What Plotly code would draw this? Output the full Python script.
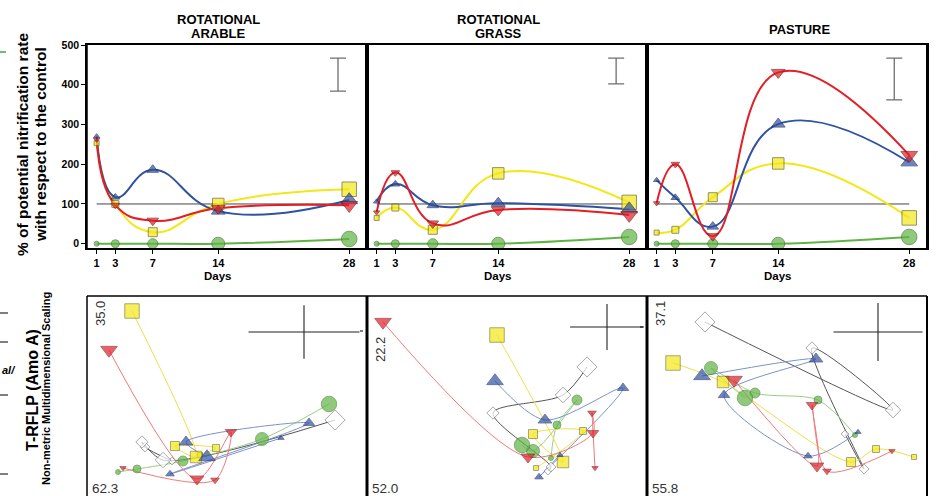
import plotly.graph_objects as go

W, H = 938, 496

DAYS = [1, 3, 7, 14, 28]
DAY_LABELS = ["1", "3", "7", "14", "28"]
RATE_TICKS = [0, 100, 200, 300, 400, 500]
CONTROL_LEVEL = 100

# Potential nitrification rate (% of the control) on each sampling day
arable_square = [253, 100, 29, 100, 137]
arable_up = [270, 117, 186, 82, 110]
arable_down = [262, 97, 58, 89, 97]
arable_circle = [0, 0, 0, 0, 12]

grass_square = [65, 91, 35, 177, 104]
grass_up = [106, 150, 97, 102, 87]
grass_down = [79, 179, 51, 85, 72]
grass_circle = [0, 0, 0, 0, 17]

pasture_square = [28, 35, 117, 202, 65]
pasture_up = [160, 116, 43, 301, 205]
pasture_down = [102, 200, 19, 431, 223]
pasture_circle = [0, 0, 0, 0, 17]

# LSD bars: (day position, lower, upper)
arable_lsd = (26.8, 384, 467)
grass_lsd = (26.6, 402, 467)
pasture_lsd = (26.4, 362, 467)

# NMDS scores (axis 1, axis 2) of the amoA T-RFLP profiles, one pair per day
arable_nmds_square = [(-0.27, -0.59), (-0.11, -0.52), (-0.52, -0.50), (-0.31, -0.61), (-0.95, 0.85)]
arable_nmds_up = [(0.54, -0.42), (-0.57, -0.78), (0.82, -0.27), (-0.41, -0.46), (-0.20, -0.61)]
arable_nmds_down = [(-1.04, -0.72), (-0.12, -0.84), (0.04, -0.36), (-0.30, -0.83), (-1.18, 0.46)]
arable_nmds_circle = [(-1.09, -0.76), (-0.90, -0.73), (-0.44, -0.65), (0.35, -0.43), (1.02, -0.08)]
arable_nmds_diamond = [(-0.55, -0.65), (-0.82, -0.51), (-0.85, -0.46), (-0.64, -0.64), (1.08, -0.24)]

grass_nmds_square = [(0.29, -0.72), (0.76, -0.35), (0.26, -0.38), (0.56, -0.66), (-0.10, 0.61)]
grass_nmds_up = [(0.53, -0.59), (0.32, -0.81), (1.16, 0.08), (0.38, -0.24), (-0.12, 0.15)]
grass_nmds_down = [(0.88, -0.72), (0.85, -0.17), (0.86, -0.37), (0.21, -0.61), (-1.24, 0.74)]
grass_nmds_circle = [(0.44, -0.62), (0.50, -0.29), (0.70, -0.04), (0.26, -0.55), (0.15, -0.49)]
grass_nmds_diamond = [(0.41, -0.75), (0.44, -0.71), (-0.14, -0.17), (0.56, 0.01), (0.80, 0.29)]

pasture_nmds_square = [(1.27, -0.61), (0.89, -0.53), (0.64, -0.66), (-0.64, 0.14), (-1.14, 0.33)]
pasture_nmds_up = [(0.71, -0.36), (0.21, -0.60), (-0.63, 0.01), (0.29, 0.37), (-0.85, 0.20)]
pasture_nmds_down = [(1.05, -0.55), (0.40, -0.75), (0.25, -0.09), (0.30, -0.70), (-0.53, 0.16)]
pasture_nmds_circle = [(0.68, -0.39), (0.31, -0.04), (-0.32, 0.03), (-0.76, 0.28), (-0.42, -0.02)]
pasture_nmds_diamond = [(0.58, -0.38), (0.77, -0.73), (0.25, 0.48), (1.06, -0.14), (-0.82, 0.74)]

# scale cross: centre x, centre y, half-length axis 1, half-length axis 2
arable_nmds_cross = (0.77, 0.64, 0.555, 0.267)
grass_nmds_cross = (1.00, 0.69, 0.37, 0.23)
pasture_nmds_cross = (0.91, 0.64, 0.445, 0.29)

# axis variance labels (vertical axis, horizontal axis)
arable_nmds_axes = ("35.0", "62.3")
grass_nmds_axes = ("22.2", "52.0")
pasture_nmds_axes = ("37.1", "55.8")

PANEL_TITLES = [["ROTATIONAL", "ARABLE"], ["ROTATIONAL", "GRASS"], ["PASTURE"]]

# ---------------------------------------------------------------- styles
FONT = "Liberation Sans, Arial, sans-serif"
BLUE = "#2F52A3"
YELLOW = "#F3E716"
RED = "#E31E27"
GREEN = "#60B445"
NMDS_LINES = {"square": "#EDE04C", "up": "#7D92CD", "down": "#F07A7A",
              "circle": "#98CF80", "diamond": "#555555"}
SIZES = {
    "circle": [5, 8, 10, 13, 15.5],
    "square": [5, 7, 9, 11.5, 14.5],
    "triangle": [5.5, 7.5, 10, 12, 14.5],
    "diamond": [6, 7.5, 9.5, 12, 15.5],
}

X_EDGES = [87, 367, 647, 927]
TOP_Y = (45, 248)
BOT_Y = (296, 496)


def px_x(p):
    return p / W


def px_y(p):
    return 1 - p / H


fig = go.Figure()


def add_line(x, y, color, width, ax, smooth):
    fig.add_trace(go.Scatter(
        x=x, y=y, mode="lines", xaxis="x" + ax, yaxis="y" + ax,
        line=dict(color=color, width=width, shape="spline", smoothing=smooth),
        hoverinfo="skip", showlegend=False))


def add_markers(x, y, symbol, sizes, fill, edge, ax, edge_w=1):
    fig.add_trace(go.Scatter(
        x=x, y=y, mode="markers", xaxis="x" + ax, yaxis="y" + ax,
        marker=dict(symbol=symbol, size=sizes, color=fill,
                    line=dict(color=edge, width=edge_w)),
        hoverinfo="skip", showlegend=False))


# ---------------------------------------------------------------- nitrification panels
top_sets = [
    (arable_circle, arable_square, arable_up, arable_down, arable_lsd),
    (grass_circle, grass_square, grass_up, grass_down, grass_lsd),
    (pasture_circle, pasture_square, pasture_up, pasture_down, pasture_lsd),
]

for i, (circ, sq, up, down, lsd) in enumerate(top_sets):
    ax = "" if i == 0 else str(i + 1)
    # control reference line
    fig.add_trace(go.Scatter(
        x=[DAYS[0], DAYS[-1]], y=[CONTROL_LEVEL, CONTROL_LEVEL], mode="lines",
        xaxis="x" + ax, yaxis="y" + ax, line=dict(color="#444444", width=1),
        hoverinfo="skip", showlegend=False))
    # LSD bar
    xpos, lo, hi = lsd
    fig.add_trace(go.Scatter(
        x=[xpos], y=[(lo + hi) / 2], mode="markers", xaxis="x" + ax, yaxis="y" + ax,
        marker=dict(size=1, color="rgba(0,0,0,0)"),
        error_y=dict(type="data", array=[(hi - lo) / 2], symmetric=True,
                     color="#6e6e6e", thickness=1.3, width=8),
        hoverinfo="skip", showlegend=False))
    add_line(DAYS, circ, GREEN, 2, ax, 1.3)
    add_line(DAYS, sq, YELLOW, 2, ax, 1.3)
    add_line(DAYS, up, BLUE, 2, ax, 1.3)
    add_line(DAYS, down, RED, 2, ax, 1.3)
    add_markers(DAYS, circ, "circle", SIZES["circle"], GREEN, "#3f7a2a", ax)
    add_markers(DAYS, sq, "square", SIZES["square"], YELLOW, "#6b6420", ax)
    add_markers(DAYS, up, "triangle-up", SIZES["triangle"], BLUE, "#1f2f5f", ax)
    add_markers(DAYS, down, "triangle-down", SIZES["triangle"], RED, "#7a1a1a", ax)

# ---------------------------------------------------------------- NMDS panels
nmds_sets = [
    (arable_nmds_diamond, arable_nmds_circle, arable_nmds_square, arable_nmds_up,
     arable_nmds_down, arable_nmds_cross, arable_nmds_axes),
    (grass_nmds_diamond, grass_nmds_circle, grass_nmds_square, grass_nmds_up,
     grass_nmds_down, grass_nmds_cross, grass_nmds_axes),
    (pasture_nmds_diamond, pasture_nmds_circle, pasture_nmds_square, pasture_nmds_up,
     pasture_nmds_down, pasture_nmds_cross, pasture_nmds_axes),
]

annotations = []

for i, (dia, circ, sq, up, down, cross, labels) in enumerate(nmds_sets):
    ax = str(i + 4)
    groups = [("diamond", dia, "diamond", SIZES["diamond"], "white", "#666666"),
              ("circle", circ, "circle", SIZES["circle"], GREEN, "#3f7a2a"),
              ("square", sq, "square", SIZES["square"], YELLOW, "#6b6420"),
              ("up", up, "triangle-up", SIZES["triangle"], BLUE, "#1f2f5f"),
              ("down", down, "triangle-down", SIZES["triangle"], RED, "#7a1a1a")]
    for key, pts, *_ in groups:
        add_line([p[0] for p in pts], [p[1] for p in pts], NMDS_LINES[key], 1, ax, 0.85)
    for key, pts, sym, sz, fill, edge in groups:
        add_markers([p[0] for p in pts], [p[1] for p in pts], sym, sz, fill, edge, ax, 0.8)
    cx, cy, hx, hy = cross
    fig.add_trace(go.Scatter(
        x=[cx], y=[cy], mode="markers", xaxis="x" + ax, yaxis="y" + ax,
        marker=dict(size=1, color="rgba(0,0,0,0)"),
        error_x=dict(type="data", array=[hx], color="#222222", thickness=1.1, width=0),
        error_y=dict(type="data", array=[hy], color="#222222", thickness=1.1, width=0),
        hoverinfo="skip", showlegend=False))
    vlab, hlab = labels
    annotations.append(dict(xref="x" + ax, yref="paper", x=-1.27,
                            y=px_y(314 if i != 1 else 350), text=vlab, textangle=-90,
                            showarrow=False, xanchor="center", yanchor="middle",
                            font=dict(family=FONT, size=13, color="#333333")))
    annotations.append(dict(xref="paper", yref="paper", x=px_x(X_EDGES[i] + 3),
                            y=px_y(488), text=hlab, showarrow=False,
                            xanchor="left", yanchor="middle",
                            font=dict(family=FONT, size=13.5, color="#333333")))

# ---------------------------------------------------------------- axes
layout = dict(
    width=W, height=H, margin=dict(l=0, r=0, t=0, b=0), autosize=False,
    template="none", paper_bgcolor="white", plot_bgcolor="white",
    font=dict(family=FONT, color="black"),
)

for i in range(3):
    sfx = "" if i == 0 else str(i + 1)
    dom_x = [px_x(X_EDGES[i]), px_x(X_EDGES[i + 1])]
    layout["xaxis" + sfx] = dict(
        domain=dom_x, anchor="y" + sfx, range=[-0.03, 29.9],
        tickvals=DAYS, ticktext=DAY_LABELS, ticks="outside", ticklen=4,
        tickwidth=1, tickcolor="black", showgrid=False, zeroline=False,
        showline=True, mirror=True, linecolor="black", linewidth=1.5,
        tickfont=dict(family=FONT, size=11, weight="bold"), automargin=False)
    layout["yaxis" + sfx] = dict(
        domain=[px_y(TOP_Y[1]), px_y(TOP_Y[0])], anchor="x" + sfx,
        range=[-10.8, 500], tickvals=RATE_TICKS,
        ticks="outside" if i == 0 else "", ticklen=4, tickwidth=1,
        tickcolor="black", showticklabels=(i == 0), showgrid=False,
        zeroline=False, showline=True, mirror=True, linecolor="black",
        linewidth=1.5, tickfont=dict(family=FONT, size=10.5, weight="bold"),
        automargin=False)
    # day labels and panel titles
    annotations.append(dict(xref="x" + sfx, yref="paper", x=14, y=px_y(275.5),
                            text="Days", showarrow=False, xanchor="center",
                            yanchor="middle",
                            font=dict(family=FONT, size=11.5, weight="bold")))
    title = PANEL_TITLES[i]
    if len(title) == 2:
        for line, ypix in zip(title, (19, 33)):
            annotations.append(dict(xref="x" + sfx, yref="paper", x=14, y=px_y(ypix),
                                    text=line, showarrow=False, xanchor="center",
                                    yanchor="middle",
                                    font=dict(family=FONT, size=13, weight="bold")))
    else:
        annotations.append(dict(xref="paper", yref="paper", x=px_x(799), y=px_y(29),
                                text=title[0], showarrow=False, xanchor="center",
                                yanchor="middle",
                                font=dict(family=FONT, size=13, weight="bold")))

for i in range(3):
    sfx = str(i + 4)
    dom_x = [px_x(X_EDGES[i]), px_x(X_EDGES[i + 1])]
    layout["xaxis" + sfx] = dict(domain=dom_x, anchor="y" + sfx, range=[-1.4, 1.4],
                                 visible=False, automargin=False)
    layout["yaxis" + sfx] = dict(domain=[0, px_y(BOT_Y[0])], anchor="x" + sfx,
                                 range=[-1.0, 1.0], visible=False, automargin=False)

# ---------------------------------------------------------------- frames and side text
shapes = []
for xp, w in zip(X_EDGES, (1.5, 3, 3, 2)):
    shapes.append(dict(type="line", xref="paper", yref="paper",
                       x0=px_x(xp), x1=px_x(xp), y0=px_y(TOP_Y[1]), y1=px_y(TOP_Y[0]),
                       line=dict(color="black", width=w)))
    shapes.append(dict(type="line", xref="paper", yref="paper",
                       x0=px_x(xp), x1=px_x(xp), y0=-0.01, y1=px_y(BOT_Y[0]),
                       line=dict(color="black", width=w)))
shapes.append(dict(type="line", xref="paper", yref="paper",
                   x0=px_x(X_EDGES[0]), x1=px_x(X_EDGES[-1]),
                   y0=px_y(BOT_Y[0]), y1=px_y(BOT_Y[0]),
                   line=dict(color="black", width=1.5)))
# partial rules along the left margin
for yp in (313, 342, 395, 474):
    shapes.append(dict(type="line", xref="paper", yref="paper", x0=0, x1=px_x(8),
                       y0=px_y(yp), y1=px_y(yp), line=dict(color="black", width=1)))
shapes.append(dict(type="line", xref="paper", yref="paper", x0=0, x1=px_x(6),
                   y0=px_y(52), y1=px_y(52), line=dict(color="#3aa84a", width=1.5)))
for xa, xb, yp in ((360, 363, 331), (640, 643, 327)):
    shapes.append(dict(type="line", xref="paper", yref="paper", x0=px_x(xa), x1=px_x(xb),
                       y0=px_y(yp), y1=px_y(yp), line=dict(color="black", width=1)))

annotations += [
    dict(xref="paper", yref="paper", x=px_x(22), y=px_y(145),
         text="% of potential nitrification rate", textangle=-90, showarrow=False,
         xanchor="center", yanchor="middle",
         font=dict(family=FONT, size=15.5, weight="bold")),
    dict(xref="paper", yref="paper", x=px_x(40), y=px_y(145),
         text="with respect to the control", textangle=-90, showarrow=False,
         xanchor="center", yanchor="middle",
         font=dict(family=FONT, size=15.5, weight="bold")),
    dict(xref="paper", yref="paper", x=px_x(32), y=px_y(390),
         text="T-RFLP (Amo A)", textangle=-90, showarrow=False,
         xanchor="center", yanchor="middle",
         font=dict(family=FONT, size=16, weight="bold")),
    dict(xref="paper", yref="paper", x=px_x(46), y=px_y(389),
         text="Non-metric Multidimensional Scaling", textangle=-90, showarrow=False,
         xanchor="center", yanchor="middle",
         font=dict(family=FONT, size=11, weight="bold")),
    dict(xref="paper", yref="paper", x=0, y=px_y(370),
         text="al/", showarrow=False, xanchor="left", yanchor="middle",
         font=dict(family=FONT, size=11, weight="bold", style="italic")),
]

layout["shapes"] = shapes
layout["annotations"] = annotations
fig.update_layout(**layout)

fig.write_html("out.html")
